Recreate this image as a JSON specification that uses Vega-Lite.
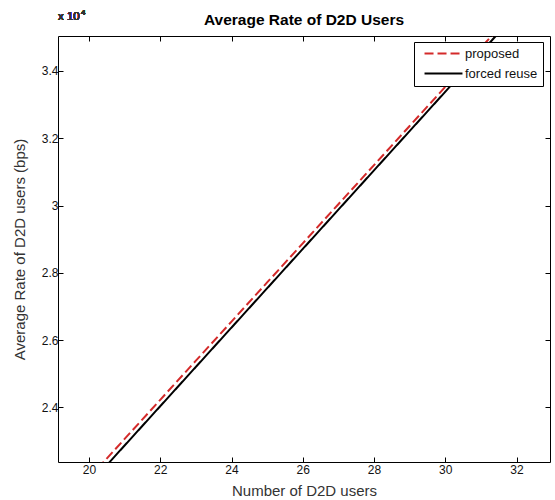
{
  "$schema": "https://vega.github.io/schema/vega-lite/v6.json",
  "autosize": {"type": "none"},
  "width": 492,
  "height": 426,
  "padding": {"left": 58, "top": 36, "right": 5, "bottom": 38},
  "background": "white",
  "config": {
    "font": "Liberation Sans",
    "view": {"stroke": "black", "strokeWidth": 1},
    "axis": {"grid": false, "domain": false, "tickColor": "black", "tickWidth": 1, "labelColor": "#111", "labelFont": "Liberation Sans", "labelFontSize": 12, "titleFont": "Liberation Sans", "titleFontWeight": "normal", "titleColor": "#333", "titleFontSize": 15}
  },
  "title": {"text": "Average Rate of D2D Users", "font": "Liberation Sans", "fontSize": 15.5, "fontWeight": "bold", "color": "black", "anchor": "middle", "offset": -35, "baseline": "alphabetic"},
  "data": {"values": [
    {"users": 20, "rate": 21903, "scheme": "proposed"},
    {"users": 21, "rate": 23066, "scheme": "proposed"},
    {"users": 22, "rate": 24228, "scheme": "proposed"},
    {"users": 23, "rate": 25391, "scheme": "proposed"},
    {"users": 24, "rate": 26553, "scheme": "proposed"},
    {"users": 25, "rate": 27716, "scheme": "proposed"},
    {"users": 26, "rate": 28878, "scheme": "proposed"},
    {"users": 27, "rate": 30041, "scheme": "proposed"},
    {"users": 28, "rate": 31203, "scheme": "proposed"},
    {"users": 29, "rate": 32366, "scheme": "proposed"},
    {"users": 30, "rate": 33528, "scheme": "proposed"},
    {"users": 31, "rate": 34691, "scheme": "proposed"},
    {"users": 32, "rate": 35853, "scheme": "proposed"},
    {"users": 20, "rate": 21703, "scheme": "forced reuse"},
    {"users": 21, "rate": 22871, "scheme": "forced reuse"},
    {"users": 22, "rate": 24039, "scheme": "forced reuse"},
    {"users": 23, "rate": 25207, "scheme": "forced reuse"},
    {"users": 24, "rate": 26375, "scheme": "forced reuse"},
    {"users": 25, "rate": 27543, "scheme": "forced reuse"},
    {"users": 26, "rate": 28711, "scheme": "forced reuse"},
    {"users": 27, "rate": 29879, "scheme": "forced reuse"},
    {"users": 28, "rate": 31047, "scheme": "forced reuse"},
    {"users": 29, "rate": 32215, "scheme": "forced reuse"},
    {"users": 30, "rate": 33383, "scheme": "forced reuse"},
    {"users": 31, "rate": 34551, "scheme": "forced reuse"},
    {"users": 32, "rate": 35719, "scheme": "forced reuse"}
  ]},
  "resolve": {"axis": {"x": "independent", "y": "independent"}},
  "layer": [
    {
      "mark": {"type": "line", "clip": true, "strokeWidth": 2},
      "encoding": {
        "x": {"field": "users", "type": "quantitative", "scale": {"domain": [19.13, 32.94], "nice": false, "zero": false},
              "axis": {"orient": "bottom", "values": [20, 22, 24, 26, 28, 30, 32], "tickSize": -5, "labelPadding": 7, "title": "Number of D2D users", "titlePadding": 8}},
        "y": {"field": "rate", "type": "quantitative", "scale": {"domain": [22380, 35040], "nice": false, "zero": false},
              "axis": {"orient": "left", "values": [24000, 26000, 28000, 30000, 32000, 34000], "tickSize": -5, "labelPadding": 5, "labelExpr": "format(datum.value/10000, '~g')", "title": "Average Rate of D2D users (bps)", "titlePadding": 14}},
        "color": {"field": "scheme", "type": "nominal", "scale": {"domain": ["proposed", "forced reuse"], "range": ["#d42a2a", "#000000"]},
                  "legend": {"title": null, "orient": "none", "legendX": 356, "legendY": 6, "strokeColor": "black", "fillColor": "white", "padding": 5, "symbolType": "M-4,0H4", "symbolSize": 90, "symbolStrokeWidth": 2, "symbolOffset": 18, "labelOffset": 15, "labelFontSize": 13, "labelColor": "#111", "labelFont": "Liberation Sans", "rowPadding": 6, "cornerRadius": 0}},
        "strokeDash": {"field": "scheme", "type": "nominal", "scale": {"domain": ["proposed", "forced reuse"], "range": [[9, 4], [1, 0]]}, "legend": null}
      }
    },
    {
      "mark": {"type": "point", "opacity": 0},
      "encoding": {
        "x": {"field": "users", "type": "quantitative", "axis": {"orient": "top", "values": [20, 22, 24, 26, 28, 30, 32], "tickSize": -5, "labels": false, "title": null}},
        "y": {"field": "rate", "type": "quantitative", "axis": {"orient": "right", "values": [24000, 26000, 28000, 30000, 32000, 34000], "tickSize": -5, "labels": false, "title": null}}
      }
    },
    {
      "mark": {"type": "text", "text": "x 10", "align": "left", "baseline": "alphabetic", "dy": -16, "fontSize": 11.5, "color": "#333", "font": "Liberation Sans"},
      "encoding": {
        "x": {"datum": 19.13, "type": "quantitative", "axis": null},
        "y": {"datum": 35040, "type": "quantitative", "axis": null}
      }
    },
    {
      "mark": {"type": "text", "text": "4", "align": "left", "baseline": "alphabetic", "dx": 23, "dy": -21, "fontSize": 8, "color": "#333", "font": "Liberation Sans"},
      "encoding": {
        "x": {"datum": 19.13, "type": "quantitative", "axis": null},
        "y": {"datum": 35040, "type": "quantitative", "axis": null}
      }
    }
  ]
}
